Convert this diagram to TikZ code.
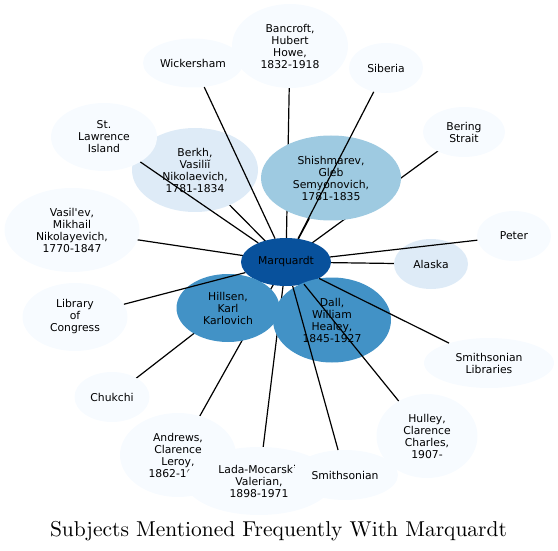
\documentclass[tikz,border=0pt]{standalone}
\usepackage{fontspec}
\newfontfamily\dvs{DejaVu Sans}
\newfontfamily\lmten{lmroman10-regular}[Extension=.otf]
\usetikzlibrary{shapes.geometric}
\definecolor{b0}{HTML}{F7FBFF}
\definecolor{b1}{HTML}{DEEBF7}
\definecolor{b2}{HTML}{9ECAE1}
\definecolor{b3}{HTML}{4292C6}
\definecolor{b4}{HTML}{08519C}
\pgfdeclarelayer{bg}
\pgfsetlayers{bg,main}
\tikzset{
  bub/.style 2 args={ellipse, draw=none, minimum width=#1, minimum height=#2, inner sep=0pt,
    align=center, font=\dvs\fontsize{10.8}{12}\selectfont, text=black},
  link/.style={draw=black, line width=1.2pt},
}
\begin{document}
\begin{tikzpicture}[x=1pt,y=-1pt]
\useasboundingbox (0,0) rectangle (558,551);
% nodes in drawing order
\node[bub={90}{48}, fill=b4] (marq) at (286,262) {Marquardt};
\node[bub={116}{84}, fill=b0] (bancroft) at (290,46) {Bancroft,\\Hubert\\Howe,\\1832-1918};
\node[bub={100}{49}, fill=b0] (wick) at (193,63) {Wickersham};
\node[bub={74}{50}, fill=b0] (siberia) at (386,68) {Siberia};
\node[bub={82}{50}, fill=b0] (bering) at (464,132) {Bering\\Strait};
\node[bub={140}{85}, fill=b2] (shish) at (331,178) {Shishmarev,\\Gleb\\Semyonovich,\\1781-1835};
\node[bub={126}{84}, fill=b1] (berkh) at (195,170) {Berkh,\\Vasiliĭ\\Nikolaevich,\\1781-1834};
\node[bub={106}{68}, fill=b0] (stl) at (104,137) {St.\\Lawrence\\Island};
\node[bub={135}{84}, fill=b0] (vasil) at (72,230) {Vasil'ev,\\Mikhail\\Nikolayevich,\\1770-1847};
\node[bub={105}{68}, fill=b0] (loc) at (75,317) {Library\\of\\Congress};
\node[bub={103}{68}, fill=b3] (hillsen) at (228,308) {Hillsen,\\Karl\\Karlovich};
\node[bub={118}{85}, fill=b3] (dall) at (332,320) {Dall,\\William\\Healey,\\1845-1927};
\node[bub={74}{50}, fill=b1] (alaska) at (431,264) {Alaska};
\node[bub={74}{50}, fill=b0] (peter) at (514,236) {Peter};
\node[bub={130}{50}, fill=b0] (smlib) at (489,363) {Smithsonian\\Libraries};
\node[bub={75}{50}, fill=b0] (chukchi) at (112,397) {Chukchi};
\node[bub={101}{84}, fill=b0] (hulley) at (427,436) {Hulley,\\Clarence\\Charles,\\1907-};
\node[bub={116}{84}, fill=b0] (andrews) at (178,455) {Andrews,\\Clarence\\Leroy,\\1862-1948};
\node[bub={148}{68}, fill=b0] (lada) at (259,481) {Lada-Mocarski,\\Valerian,\\1898-1971};
\node[bub={106}{50}, fill=b0] (smith) at (345,475) {Smithsonian};
% edges hidden under nodes
\begin{pgfonlayer}{bg}
\foreach \n in {bancroft,bering,shish,berkh,vasil,hillsen,dall,alaska,chukchi,andrews,lada}
  \draw[link] (marq.center) -- (\n.center);
\end{pgfonlayer}
% edges drawn over other nodes
\foreach \n in {wick,siberia,stl,loc,smith,hulley,smlib,peter}
  \draw[link] (marq) -- (\n);
% title
\node[anchor=base, font=\lmten\fontsize{21.5}{25}\selectfont, inner sep=0pt] (title) at (278.5,536) {Subjects Mentioned Frequently With Marquardt};
\end{tikzpicture}
\end{document}
